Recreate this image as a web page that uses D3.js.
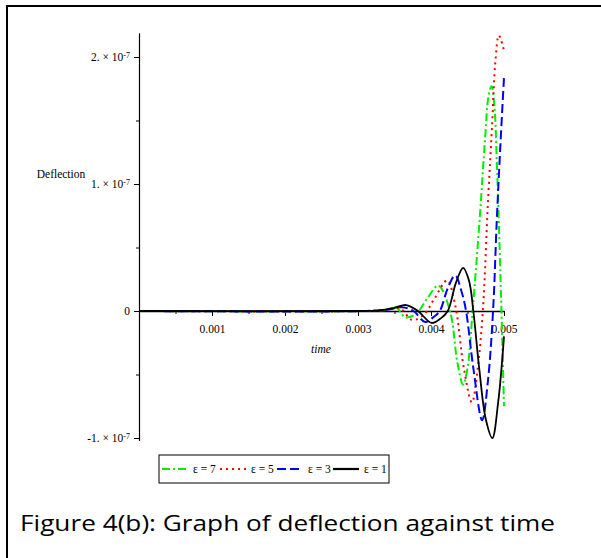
<!DOCTYPE html>
<html>
<head>
<meta charset="utf-8">
<script src="https://d3js.org/d3.v7.min.js"></script>
<style>
  body { margin: 0; background: #fff; }
  text { font-family: "Liberation Serif", "DejaVu Serif", serif; }
</style>
</head>
<body>
<div id="chart"></div>
<script>
// time in seconds, deflection in units of 1e-7
const time7 = [0, 0.0031, 0.0034, 0.00352, 0.00365, 0.0038, 0.00395, 0.0041, 0.00426, 0.00436, 0.00444, 0.0045, 0.00457, 0.00467, 0.00474, 0.00479, 0.00483, 0.00487, 0.0049, 0.00494, 0.00497, 0.005];
const defl7 = [0, 0, 0.01, 0.03, -0.05, -0.02, 0.1, 0.2, 0.0, -0.4, -0.58, -0.45, 0.0, 0.75, 1.35, 1.7, 1.77, 1.6, 1.2, 0.5, -0.1, -0.75];

const time5 = [0, 0.0031, 0.0034, 0.00358, 0.00374, 0.0039, 0.00405, 0.00422, 0.00433, 0.00445, 0.00456, 0.00464, 0.00471, 0.00478, 0.00484, 0.00488, 0.00493, 0.005];
const defl5 = [0, 0, 0.01, 0.02, -0.07, -0.03, 0.1, 0.24, 0.05, -0.45, -0.72, -0.45, 0.0, 0.85, 1.5, 1.95, 2.17, 2.05];

const time3 = [0, 0.0031, 0.0034, 0.0036, 0.00376, 0.00392, 0.00403, 0.00412, 0.00423, 0.00433, 0.00442, 0.00448, 0.00458, 0.0047, 0.00478, 0.00485, 0.0049, 0.00495, 0.005];
const defl3 = [0, 0, 0.01, 0.03, 0.0, -0.087, -0.05, 0.0, 0.18, 0.28, 0.15, 0.0, -0.45, -0.86, -0.55, 0.0, 0.7, 1.3, 1.84];

const time1 = [0, 0.0030, 0.0033, 0.0035, 0.00366, 0.00382, 0.00401, 0.00413, 0.00423, 0.00434, 0.00444, 0.00452, 0.00458, 0.00466, 0.00475, 0.00484, 0.00492, 0.005];
const defl1 = [0, 0, 0.005, 0.025, 0.047, 0.0, -0.094, -0.06, 0.0, 0.22, 0.34, 0.24, 0.0, -0.45, -0.85, -1.0, -0.72, -0.2];

const epsilons = [7, 5, 3, 1];
const xTicks = [0.001, 0.002, 0.003, 0.004, 0.005];
const xMinor = [0.0005, 0.0015, 0.0025, 0.0035, 0.0045];
const yTicks = [2, 1, 0, -1];
const yMinor = [1.5, 0.5, -0.5];
const yTickMantissa = ["2.", "1.", "0", "-1."];

const series = [
  { eps: 7, t: time7, v: defl7, color: "#00ee00", dash: "8,3,2,3", w: 2 },
  { eps: 5, t: time5, v: defl5, color: "#ff0000", dash: "2,4", w: 2 },
  { eps: 3, t: time3, v: defl3, color: "#0000ff", dash: "9,4", w: 2 },
  { eps: 1, t: time1, v: defl1, color: "#000000", dash: null, w: 1.8 }
];

const W = 601, H = 558;
const svg = d3.select("#chart").append("svg")
  .attr("width", W).attr("height", H);

// frame
svg.append("line").attr("x1", 7).attr("x2", 7).attr("y1", 6).attr("y2", H)
  .attr("stroke", "#000").attr("stroke-width", 2);
svg.append("line").attr("x1", 6).attr("x2", W).attr("y1", 6).attr("y2", 6)
  .attr("stroke", "#000").attr("stroke-width", 2);

const x = d3.scaleLinear().domain([0, 0.005]).range([139, 504]);
const y = d3.scaleLinear().domain([-1.02, 2.19]).range([311 + 127 * 1.02, 311 - 127 * 2.19]);

// y axis
const yAxis = svg.append("g")
  .attr("transform", `translate(${x(0)},0)`)
  .call(d3.axisLeft(y).tickValues(yTicks).tickSize(5).tickSizeOuter(0).tickPadding(4).tickFormat(""));
svg.append("g")
  .attr("transform", `translate(${x(0)},0)`)
  .call(d3.axisLeft(y).tickValues(yMinor).tickSize(3).tickSizeOuter(0).tickFormat(""))
  .select(".domain").remove();

yAxis.selectAll(".tick text").each(function(d, i) {
  const t = d3.select(this).attr("font-size", 11.5).attr("fill", "#000").attr("font-family", "Liberation Serif");
  const m = yTickMantissa[yTicks.indexOf(d)];
  if (d === 0) { t.text(m); return; }
  t.append("tspan").text(m + " × 10");
  t.append("tspan").attr("dy", "-0.45em").attr("font-size", 8).text("-7");
});

// x axis at zero
const xAxis = svg.append("g")
  .attr("transform", `translate(0,${y(0)})`)
  .call(d3.axisBottom(x).tickValues(xTicks).tickSize(5).tickSizeOuter(0).tickPadding(9).tickFormat(d3.format(".3f")));
xAxis.select(".domain").attr("stroke-width", 1.5);
xAxis.selectAll(".tick text").attr("font-size", 11.5).attr("fill", "#000").attr("font-family", "Liberation Serif");
svg.append("g")
  .attr("transform", `translate(0,${y(0)})`)
  .call(d3.axisBottom(x).tickValues(xMinor).tickSize(3).tickSizeOuter(0).tickFormat(""))
  .select(".domain").remove();
yAxis.select(".domain").attr("stroke-width", 1.2);

// axis titles
svg.append("text").attr("x", 61).attr("y", 178).attr("text-anchor", "middle")
  .attr("font-size", 11.5).text("Deflection");
svg.append("text").attr("x", 321).attr("y", 353).attr("text-anchor", "middle")
  .attr("font-size", 11.5).attr("font-style", "italic").text("time");

// curves
const line = d3.line().curve(d3.curveCatmullRom.alpha(0.5));
series.forEach(function(s) {
  svg.append("path")
    .datum(s.t.map((t, i) => [x(t), y(s.v[i])]))
    .attr("fill", "none")
    .attr("stroke", s.color)
    .attr("stroke-width", s.w)
    .attr("stroke-dasharray", s.dash)
    .attr("d", line);
});

// legend
const lg = svg.append("g");
lg.append("rect").attr("x", 159).attr("y", 455).attr("width", 230).attr("height", 28)
  .attr("fill", "#fff").attr("stroke", "#000").attr("stroke-width", 1);
const slotX = [162, 220, 277, 333];
series.forEach(function(s, i) {
  lg.append("line").attr("x1", slotX[i]).attr("x2", slotX[i] + 26)
    .attr("y1", 469).attr("y2", 469)
    .attr("stroke", s.color).attr("stroke-width", 2.2)
    .attr("stroke-dasharray", s.dash);
  lg.append("text").attr("x", slotX[i] + 31).attr("y", 473)
    .attr("font-size", 11.5).text("ε = " + epsilons[i]);
});

// caption
svg.append("text").attr("x", 20).attr("y", 531)
  .attr("font-size", 22)
  .attr("textLength", 535).attr("lengthAdjust", "spacingAndGlyphs")
  .attr("fill", "#000")
  .style("font-family", "'Open Sans', 'Noto Sans', sans-serif")
  .text("Figure 4(b): Graph of deflection against time");
</script>
</body>
</html>
